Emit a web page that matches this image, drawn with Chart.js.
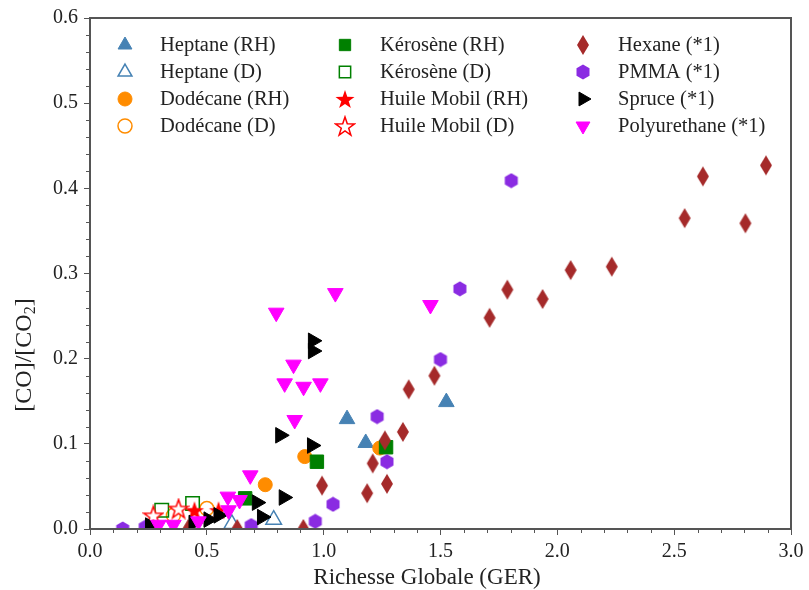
<!DOCTYPE html>
<html>
<head>
<meta charset="utf-8">
<script src="https://cdn.jsdelivr.net/npm/chart.js@4/dist/chart.umd.min.js"></script>
<style>
  html, body { margin: 0; padding: 0; background: #fff; }
  #wrap { width: 809px; height: 590px; }
</style>
</head>
<body>
<div id="wrap"><canvas id="graphe" width="809" height="590"></canvas></div>
<script>
// donnees : richesse globale (x) et [CO]/[CO2] (y)
const heptaneRH_x = [1.10, 1.18, 1.525];
const heptaneRH_y = [0.129, 0.101, 0.149];
const heptaneD_x = [0.607, 0.786];
const heptaneD_y = [0.006, 0.011];
const dodecaneRH_x = [0.75, 0.919, 1.24];
const dodecaneRH_y = [0.052, 0.085, 0.095];
const dodecaneD_x = [0.357, 0.50];
const dodecaneD_y = [0.016, 0.024];
const keroseneRH_x = [0.664, 0.971, 1.267];
const keroseneRH_y = [0.036, 0.079, 0.096];
const keroseneD_x = [0.307, 0.439];
const keroseneD_y = [0.022, 0.030];
const huileRH_x = [0.447, 0.55];
const huileRH_y = [0.022, 0.022];
const huileD_x = [0.271, 0.379];
const huileD_y = [0.016, 0.024];
const hexane_x = [0.42, 0.63, 0.913, 0.993, 1.186, 1.21, 1.262, 1.271, 1.339, 1.364, 1.474, 1.71, 1.786, 1.937, 2.057, 2.233, 2.545, 2.623, 2.805, 2.893];
const hexane_y = [0, 0, 0, 0.051, 0.042, 0.077, 0.104, 0.053, 0.114, 0.164, 0.180, 0.248, 0.281, 0.270, 0.304, 0.308, 0.365, 0.414, 0.359, 0.427];
const pmma_x = [0.14, 0.236, 0.69, 0.964, 1.04, 1.229, 1.271, 1.50, 1.583, 1.803];
const pmma_y = [0, 0.002, 0.004, 0.009, 0.029, 0.132, 0.079, 0.199, 0.282, 0.409];
const spruce_x = [0.257, 0.443, 0.507, 0.55, 0.714, 0.736, 0.814, 0.829, 0.95, 0.954, 0.954];
const spruce_y = [0.004, 0.007, 0.011, 0.016, 0.031, 0.014, 0.110, 0.037, 0.098, 0.209, 0.221];
const poly_x = [0.293, 0.357, 0.464, 0.59, 0.593, 0.64, 0.686, 0.797, 0.833, 0.871, 0.876, 0.914, 0.986, 1.05, 1.457];
const poly_y = [0.005, 0.005, 0.009, 0.038, 0.022, 0.034, 0.063, 0.254, 0.171, 0.193, 0.128, 0.167, 0.171, 0.277, 0.263];

const xTicks = [0, 0.5, 1.0, 1.5, 2.0, 2.5, 3.0];
const yTicks = [0, 0.1, 0.2, 0.3, 0.4, 0.5, 0.6];

const police = "'Liberation Serif', 'DejaVu Serif', serif";

// petits marqueurs dessines a la main (etoile, losange fin, hexagone)
function marqueur(w, h, dessin) {
  const c = document.createElement('canvas');
  c.width = w; c.height = h;
  dessin(c.getContext('2d'), w, h);
  return c;
}
function etoile(remplir, couleur) {
  return marqueur(22, 22, function (ctx, w, h) {
    ctx.beginPath();
    for (let i = 0; i < 10; i++) {
      const r = i % 2 === 0 ? 10 : 3.9;
      const a = -Math.PI / 2 + i * Math.PI / 5;
      const px = w / 2 + r * Math.cos(a), py = h / 2 + 1 + r * Math.sin(a);
      if (i === 0) ctx.moveTo(px, py); else ctx.lineTo(px, py);
    }
    ctx.closePath();
    if (remplir) { ctx.fillStyle = couleur; ctx.fill(); }
    else { ctx.fillStyle = '#fff'; ctx.fill(); ctx.lineWidth = 1.5; ctx.strokeStyle = couleur; ctx.stroke(); }
  });
}
const losange = marqueur(14, 22, function (ctx, w, h) {
  ctx.beginPath();
  ctx.moveTo(w / 2, 1); ctx.lineTo(w - 1, h / 2); ctx.lineTo(w / 2, h - 1); ctx.lineTo(1, h / 2);
  ctx.closePath();
  ctx.fillStyle = '#a52a2a'; ctx.fill();
});
const hexagone = marqueur(16, 16, function (ctx, w, h) {
  ctx.beginPath();
  for (let i = 0; i < 6; i++) {
    const a = -Math.PI / 2 + i * Math.PI / 3;
    const px = w / 2 + 7.5 * Math.cos(a), py = h / 2 + 7.5 * Math.sin(a);
    if (i === 0) ctx.moveTo(px, py); else ctx.lineTo(px, py);
  }
  ctx.closePath();
  ctx.fillStyle = '#8a2be2'; ctx.fill();
});

function points(xs, ys) {
  return xs.map((x, i) => ({ x: x, y: ys[i] }));
}

const series = [
  { label: 'Heptane (RH)', data: points(heptaneRH_x, heptaneRH_y), pointStyle: 'triangle', pointRadius: 9, backgroundColor: '#4682b4', borderColor: '#4682b4', borderWidth: 1 },
  { label: 'Heptane (D)', data: points(heptaneD_x, heptaneD_y), pointStyle: 'triangle', pointRadius: 9, backgroundColor: 'rgba(255,255,255,0)', borderColor: '#4682b4', borderWidth: 1.5 },
  { label: 'Dodécane (RH)', data: points(dodecaneRH_x, dodecaneRH_y), pointStyle: 'circle', pointRadius: 7, backgroundColor: '#ff8c00', borderColor: '#ff8c00', borderWidth: 1 },
  { label: 'Dodécane (D)', data: points(dodecaneD_x, dodecaneD_y), pointStyle: 'circle', pointRadius: 7, backgroundColor: 'rgba(255,255,255,0)', borderColor: '#ff8c00', borderWidth: 1.5 },
  { label: 'Kérosène (RH)', data: points(keroseneRH_x, keroseneRH_y), pointStyle: 'rect', pointRadius: 9.5, backgroundColor: '#008000', borderColor: '#008000', borderWidth: 1 },
  { label: 'Kérosène (D)', data: points(keroseneD_x, keroseneD_y), pointStyle: 'rect', pointRadius: 9.5, backgroundColor: 'rgba(255,255,255,0)', borderColor: '#008000', borderWidth: 1.5 },
  { label: 'Huile Mobil (RH)', data: points(huileRH_x, huileRH_y), pointStyle: etoile(true, '#ff0000'), pointRadius: 10 },
  { label: 'Huile Mobil (D)', data: points(huileD_x, huileD_y), pointStyle: etoile(false, '#ff0000'), pointRadius: 10 },
  { label: 'Hexane (*1)', data: points(hexane_x, hexane_y), pointStyle: losange, pointRadius: 10 },
  { label: 'PMMA (*1)', data: points(pmma_x, pmma_y), pointStyle: hexagone, pointRadius: 8 },
  { label: 'Spruce (*1)', data: points(spruce_x, spruce_y), pointStyle: 'triangle', rotation: 90, pointRadius: 9, backgroundColor: '#000', borderColor: '#000', borderWidth: 1 },
  { label: 'Polyurethane (*1)', data: points(poly_x, poly_y), pointStyle: 'triangle', rotation: 180, pointRadius: 9, backgroundColor: '#ff00ff', borderColor: '#ff00ff', borderWidth: 1 }
];
// comme matplotlib : la derniere serie passe au-dessus
series.forEach((s, i) => { s.order = series.length - i; s.clip = 0; s.pointHoverRadius = s.pointRadius; });

const gris = '#555';

// cadre complet + petites graduations + titres des axes
const cadre = {
  id: 'cadre',
  afterDraw(chart) {
    const ctx = chart.ctx, a = chart.chartArea;
    const sx = chart.scales.x, sy = chart.scales.y;
    ctx.save();
    ctx.strokeStyle = gris;
    ctx.lineWidth = 1;
    for (let v = 0.1; v < 3; v += 0.1) {
      if (Math.abs(v * 2 - Math.round(v * 2)) < 1e-6) continue;
      const px = Math.round(sx.getPixelForValue(v)) + 0.5;
      ctx.beginPath(); ctx.moveTo(px, a.bottom); ctx.lineTo(px, a.bottom + 4); ctx.stroke();
    }
    for (let v = 0.02; v < 0.6; v += 0.02) {
      if (Math.abs(v * 10 - Math.round(v * 10)) < 1e-6) continue;
      const py = Math.round(sy.getPixelForValue(v)) + 0.5;
      ctx.beginPath(); ctx.moveTo(a.left - 4, py); ctx.lineTo(a.left, py); ctx.stroke();
    }
    ctx.lineWidth = 2;
    ctx.strokeRect(a.left, a.top, a.right - a.left, a.bottom - a.top);

    // titre x
    ctx.fillStyle = '#222';
    ctx.font = '23px ' + police;
    ctx.textAlign = 'center';
    ctx.textBaseline = 'middle';
    ctx.fillText('Richesse Globale (GER)', a.left + 337, a.bottom + 49);

    // titre y avec indice
    ctx.translate(a.left - 65, a.bottom - 174);
    ctx.rotate(-Math.PI / 2);
    const grand = '24px ' + police, petit = '16px ' + police;
    ctx.font = grand;
    const w1 = ctx.measureText('[CO]/[CO').width, w3 = ctx.measureText(']').width;
    ctx.font = petit;
    const w2 = ctx.measureText('2').width;
    let x0 = -(w1 + w2 + w3) / 2;
    ctx.textAlign = 'left';
    ctx.font = grand;
    ctx.fillText('[CO]/[CO', x0, 0);
    ctx.font = petit;
    ctx.fillText('2', x0 + w1, 6);
    ctx.font = grand;
    ctx.fillText(']', x0 + w1 + w2, 0);
    ctx.restore();
  }
};

// legende en 3 colonnes dans la zone du graphique
const legende = {
  id: 'legende',
  afterDraw(chart) {
    const ctx = chart.ctx, a = chart.chartArea;
    const colX = [35, 255, 493];
    ctx.save();
    ctx.font = '20.5px ' + police;
    ctx.textBaseline = 'middle';
    chart.data.datasets.forEach((ds, i) => {
      const col = Math.floor(i / 4), row = i % 4;
      const mx = a.left + colX[col], my = a.top + 27 + row * 27;
      ctx.fillStyle = ds.backgroundColor || '#000';
      ctx.strokeStyle = ds.borderColor || '#000';
      ctx.lineWidth = ds.borderWidth || 1;
      Chart.helpers.drawPoint(ctx, { pointStyle: ds.pointStyle, rotation: ds.rotation || 0, radius: Math.min(ds.pointRadius, 8), borderWidth: ds.borderWidth || 1 }, mx, my);
      ctx.fillStyle = '#222';
      ctx.fillText(ds.label, mx + 35, my + 1);
    });
    ctx.restore();
  }
};

new Chart('graphe', {
  type: 'scatter',
  data: { datasets: series },
  options: {
    responsive: false,
    animation: false,
    events: [],
    layout: { padding: { left: 0, right: 18, top: 15, bottom: 0 } },
    plugins: {
      legend: { display: false },
      tooltip: { enabled: false }
    },
    scales: {
      x: {
        type: 'linear',
        min: 0, max: 3,
        afterFit(s) { s.height = 61; },
        afterBuildTicks(s) { s.ticks = xTicks.map(v => ({ value: v })); },
        ticks: { color: '#222', padding: 5, font: { family: police, size: 20 }, callback: v => v.toFixed(1) },
        grid: { drawOnChartArea: false, drawTicks: true, tickLength: 6, color: gris },
        border: { color: gris, width: 2 }
      },
      y: {
        type: 'linear',
        min: 0, max: 0.6,
        afterFit(s) { s.width = 90; },
        afterBuildTicks(s) { s.ticks = yTicks.map(v => ({ value: v })); },
        ticks: { color: '#222', padding: 6, font: { family: police, size: 20 }, callback: v => v.toFixed(1) },
        grid: { drawOnChartArea: false, drawTicks: true, tickLength: 6, color: gris },
        border: { color: gris, width: 2 }
      }
    }
  },
  plugins: [cadre, legende]
});
</script>
</body>
</html>
